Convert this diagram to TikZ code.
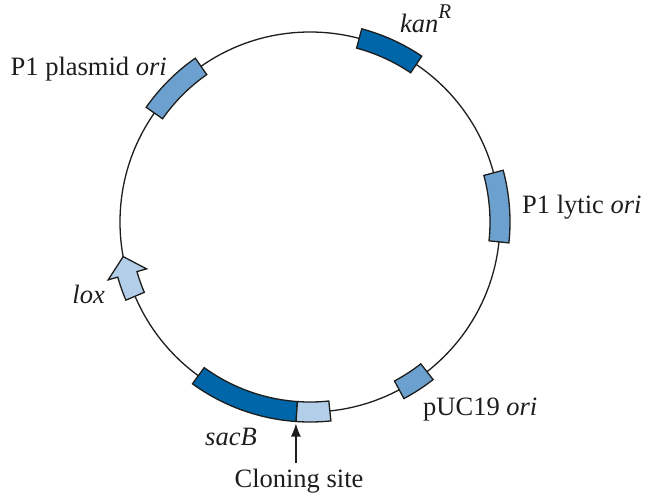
\documentclass[tikz,border=0pt]{standalone}
\usepackage{fontspec}
\setmainfont{Liberation Serif}
\usetikzlibrary{arrows.meta}
\definecolor{ink}{HTML}{1D1D1B}
\definecolor{genedark}{HTML}{0066AA}
\definecolor{genemid}{HTML}{6CA0CE}
\definecolor{genelight}{HTML}{B3CEE8}

\begin{document}
\begin{tikzpicture}[
  x=1pt, y=1pt,
  backbone/.style={draw=ink, line width=1.3pt},
  gene/.style={draw=ink, line width=1.3pt, line join=miter},
  lbl/.style={font=\fontsize{26.5}{30}\selectfont, text=ink, inner sep=0pt},
  arr/.style={-{Latex[length=13pt, width=10pt]}, line width=1.3pt, draw=ink}
]
\useasboundingbox (-310,-274) rectangle (336,222);

% plasmid backbone
\draw[backbone] (0,0) circle (190);

% marker blocks
\draw[gene, fill=genedark] (56:180) arc (56:75:180) -- (75:200) arc (75:56:200) -- cycle;
\draw[gene, fill=genemid] (-6:180) arc (-6:15:180) -- (15:200) arc (15:-6:200) -- cycle;
\draw[gene, fill=genemid] (-62:180) arc (-62:-52:180) -- (-52:200) arc (-52:-62:200) -- cycle;
\draw[gene, fill=genemid] (125:180) arc (125:145:180) -- (145:200) arc (145:125:200) -- cycle;
\draw[gene, fill=genedark] (234:180) arc (234:266:180) -- (266:200) arc (266:234:200) -- cycle;
\draw[gene, fill=genelight] (266:180) arc (266:276:180) -- (276:200) arc (276:266:200) -- cycle;

% lox site
\draw[gene, fill=genelight] (203:180) arc (203:196:180) -- (196:170) -- (190.5:190)
  -- (196:210) -- (196:200) arc (196:203:200) -- cycle;

% labels
\node[lbl, anchor=base west] (kan) at (90,190) {\textit{kan}\raisebox{13pt}{\fontsize{21}{21}\selectfont\itshape R}};
\node[lbl, anchor=base east] (plasori) at (-143,147) {P1 plasmid \textit{ori}};
\node[lbl, anchor=base west] (lytori) at (212,9) {P1 lytic \textit{ori}};
\node[lbl, anchor=base east] (lox) at (-205,-81) {\textit{lox}};
\node[lbl, anchor=base west] (pucori) at (113,-193) {pUC19 \textit{ori}};
\node[lbl, anchor=base] (sacb) at (-79,-223) {\textit{sacB}};
\node[lbl, anchor=base] (clonelbl) at (-11,-265) {Cloning site};

\coordinate (site) at (266:202);
\draw[arr] ([yshift=5pt]clonelbl.north -| site) -- (site);
\end{tikzpicture}
\end{document}
